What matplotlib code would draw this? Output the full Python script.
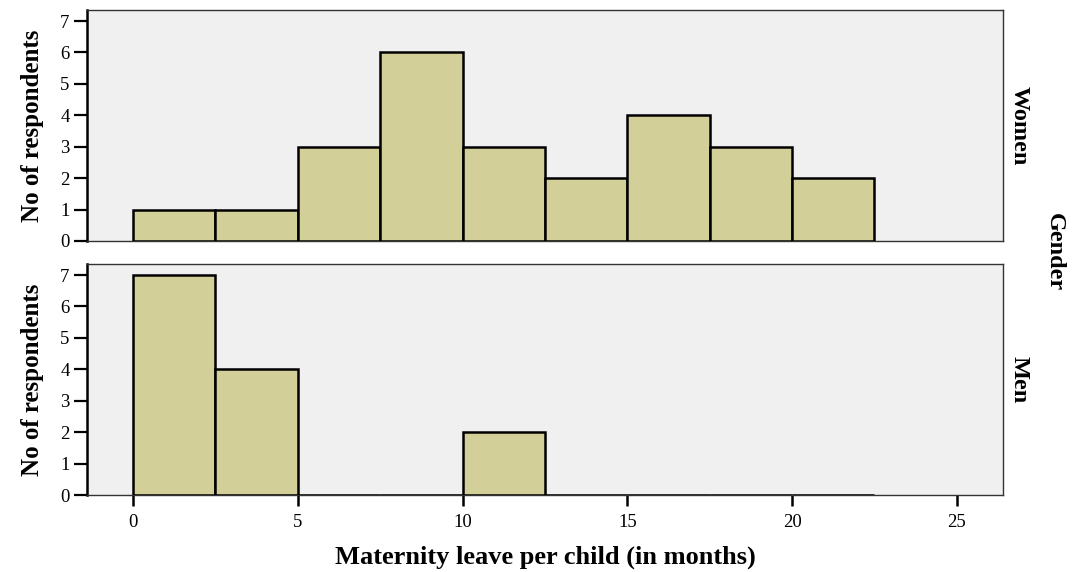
import numpy as np
import matplotlib
matplotlib.use('Agg')
import matplotlib.pyplot as plt

plt.rcParams['font.family'] = ['Liberation Serif', 'DejaVu Serif']

# histogram bins (months) and counts per gender
bin_edges = [0, 2.5, 5, 7.5, 10, 12.5, 15, 17.5, 20, 22.5]
women_counts = [1, 1, 3, 6, 3, 2, 4, 3, 2]
men_counts = [7, 4, 0, 0, 2, 0, 0, 0, 0]
panels = [('Women', women_counts), ('Men', men_counts)]
xticks = [0, 5, 10, 15, 20, 25]
yticks = [0, 1, 2, 3, 4, 5, 6, 7]

bar_color = '#d3cf99'
bg_color = '#f0f0f0'

fig = plt.figure(figsize=(10.75, 5.72), dpi=100)
ax_top = fig.add_axes([0.0809, 0.5787, 0.8521, 0.4038])
ax_bot = fig.add_axes([0.0809, 0.1346, 0.8521, 0.4038])

edges = np.array(bin_edges)
widths = np.diff(edges)
for ax, (name, counts) in zip([ax_top, ax_bot], panels):
    ax.set_facecolor(bg_color)
    ax.bar(edges[:-1], counts, width=widths, align='edge', color=bar_color,
           edgecolor='black', linewidth=1.8, zorder=3)
    ax.set_xlim(-1.4, 26.4)
    ax.set_ylim(0, 7.35)
    ax.set_yticks(yticks)
    ax.tick_params(axis='y', direction='out', length=9.5, width=1.6,
                   labelsize=13.5, pad=3)
    for side in ['top', 'right', 'bottom']:
        ax.spines[side].set_linewidth(1.0)
        ax.spines[side].set_color('#333333')
    ax.spines['left'].set_linewidth(1.8)
    ax.spines['left'].set_color('black')
    ax.set_ylabel('No of respondents', fontsize=18, fontweight='bold',
                  labelpad=12)
    ax.text(1.0175, 0.5, name, transform=ax.transAxes, rotation=-90,
            ha='center', va='center', fontsize=17.5, fontweight='bold')

ax_top.set_xticks([])
ax_bot.set_xticks(xticks)
ax_bot.tick_params(axis='x', direction='out', length=8, width=1.8,
                   labelsize=13.5, pad=6)
ax_bot.set_xlabel('Maternity leave per child (in months)', fontsize=19,
                  fontweight='bold', labelpad=10)

fig.text(0.981, 0.559, 'Gender', rotation=-90, ha='center', va='center',
         fontsize=17.5, fontweight='bold')

fig.savefig('out.png', dpi=100)
